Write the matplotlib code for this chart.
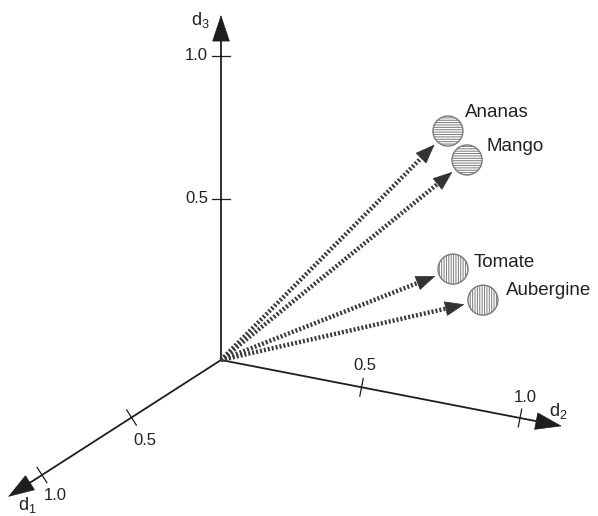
import numpy as np
import matplotlib
matplotlib.use("Agg")
import matplotlib.pyplot as plt
from matplotlib.patches import Circle

plt.rcParams['font.family'] = ['Liberation Sans', 'DejaVu Sans']
plt.rcParams['mathtext.fontset'] = 'custom'
plt.rcParams['mathtext.rm'] = 'Liberation Sans'
plt.rcParams['hatch.linewidth'] = 0.7

# ---- data ----
axis_names = ["d1", "d2", "d3"]
tick_labels = ["0.5", "1.0"]
tick_values_d1 = [0.5, 1.0]
tick_values_d2 = [0.47, 1.0]
tick_values_d3 = [0.53, 1.0]
axis_lengths = [1.19, 1.14, 1.135]

fruits = ["Ananas", "Mango", "Tomate", "Aubergine"]
fruit_d1 = [0.0, 0.0, 0.0, 0.0]
fruit_d2 = [0.759, 0.823, 0.776, 0.876]
fruit_d3 = [0.898, 0.815, 0.447, 0.364]
fruit_hatch = ["-------", "-------", "|||||||", "|||||||"]

# ---- oblique projection (pixel-like canvas) ----
O = np.array([221.0, 360.0])
U = [np.array([-179.0, 115.0]), np.array([299.0, 58.0]), np.array([0.0, -304.0])]

def proj(a, b, c):
    return O + a * U[0] + b * U[1] + c * U[2]

fig = plt.figure(figsize=(5.98, 5.16), dpi=100)
ax = fig.add_axes([0, 0, 1, 1])
ax.set_xlim(0, 598)
ax.set_ylim(516, 0)
ax.axis('off')

axis_col = '#1e1e1e'
txt_col = '#222222'

# axes
tick_sets = [tick_values_d1, tick_values_d2, tick_values_d3]
label_offsets = [[(13, 23), (13, 20)], [(3, -22), (5, -21)], [(-13, 0), (-13, 0)]]
name_offsets = [(19, 8), (-4, -15), (-21, 5)]
for i in range(3):
    e = np.zeros(3); e[i] = axis_lengths[i]
    tip = proj(*e)
    d = (tip - O) / np.linalg.norm(tip - O)
    base = tip - d * 25
    ax.plot([O[0], base[0]], [O[1], base[1]], color=axis_col, lw=1.3, solid_capstyle='butt')
    ax.annotate('', xy=tip, xytext=base,
                arrowprops=dict(arrowstyle='-|>,head_length=18,head_width=6',
                                mutation_scale=1, color=axis_col, lw=0.5,
                                shrinkA=0, shrinkB=0))
    perp = np.array([-d[1], d[0]])
    for v, lab, off in zip(tick_sets[i], tick_labels, label_offsets[i]):
        e = np.zeros(3); e[i] = v
        p = proj(*e)
        a1, a2 = p - perp * 9, p + perp * 9
        ax.plot([a1[0], a2[0]], [a1[1], a2[1]], color=axis_col, lw=0.9)
        if i == 2:
            ax.text(p[0] + off[0], p[1] + off[1], lab, ha='right', va='center',
                    fontsize=12, color=txt_col)
        else:
            ax.text(p[0] + off[0], p[1] + off[1], lab, ha='center', va='center',
                    fontsize=12, color=txt_col)
    nm = axis_names[i]
    ax.text(tip[0] + name_offsets[i][0], tip[1] + name_offsets[i][1],
            r'$\mathregular{%s_{%s}}$' % (nm[0], nm[1]), ha='center', va='center',
            fontsize=13, color=txt_col)

# fruit vectors
text_offsets = [(17, -19), (19, -13), (21, -7), (23, -10)]
for name, a, b, c, h, toff in zip(fruits, fruit_d1, fruit_d2, fruit_d3, fruit_hatch, text_offsets):
    cen = proj(a, b, c)
    d = (cen - O) / np.linalg.norm(cen - O)
    tip = cen - d * 19
    hb = tip - d * 18
    ax.plot([O[0], hb[0] + d[0] * 2], [O[1], hb[1] + d[1] * 2], color='#3a3a3a', lw=3.2,
            linestyle=(0, (0.45, 0.45)), solid_capstyle='butt', dash_capstyle='butt')
    ax.annotate('', xy=tip, xytext=hb,
                arrowprops=dict(arrowstyle='-|>,head_length=13,head_width=5',
                                mutation_scale=1, color='#333333', lw=0.5,
                                shrinkA=0, shrinkB=0))
    circ = Circle(cen, 15, facecolor='white', edgecolor='#7a7a7a', lw=1.0, hatch=h)
    ax.add_patch(circ)
    ax.text(cen[0] + toff[0], cen[1] + toff[1], name, ha='left', va='center',
            fontsize=13.5, color=txt_col)

fig.savefig('out.png', dpi=100)
